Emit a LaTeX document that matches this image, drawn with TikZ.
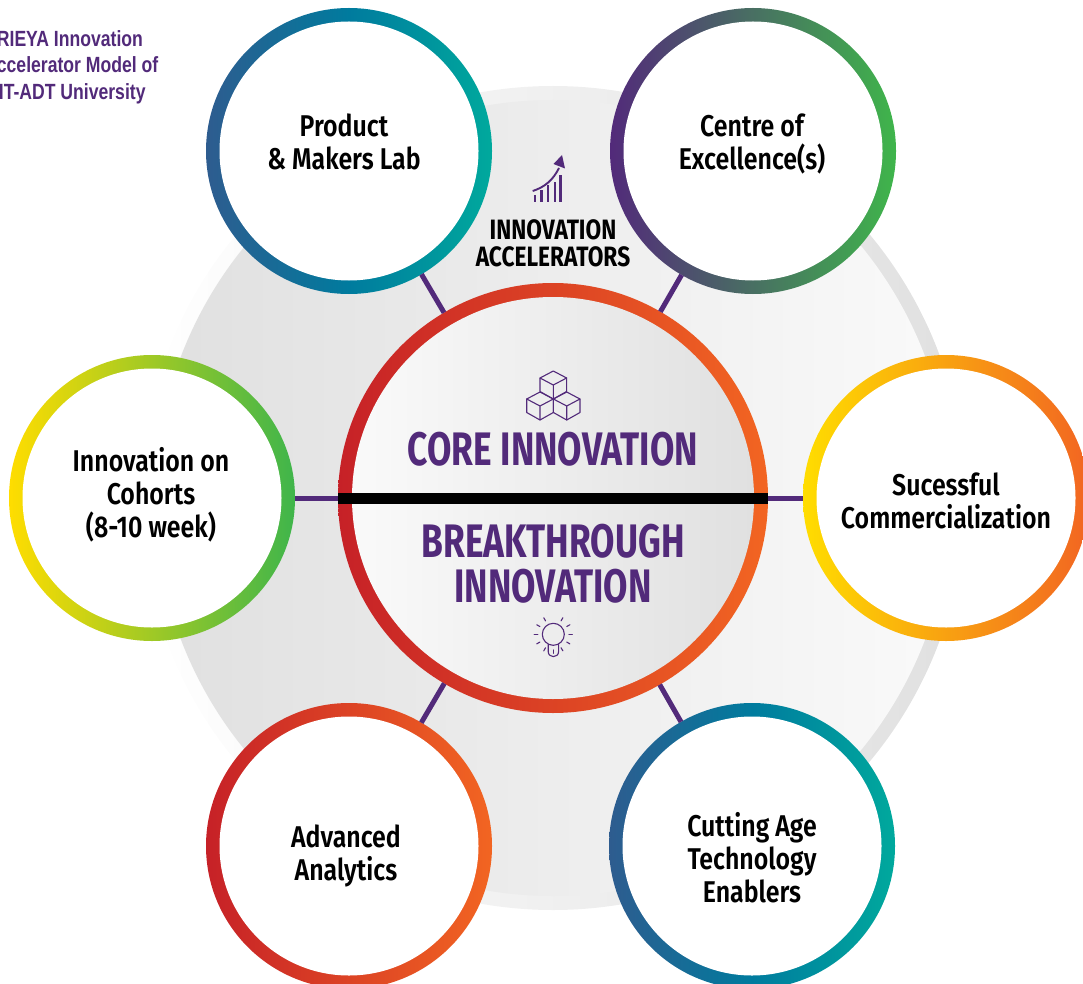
\documentclass[tikz,border=0pt]{standalone}
\usepackage{fontspec}
\setmainfont{Fira Sans}
\newfontfamily\condf[FakeStretch=0.83]{Fira Sans}[UprightFont=* SemiBold]
\newfontfamily\condb[FakeStretch=0.752]{Fira Sans}[UprightFont=* Bold]
\newfontfamily\condc[FakeStretch=0.81]{Fira Sans}[UprightFont=* Bold]
\newfontfamily\narrowf[FakeStretch=0.8]{Liberation Sans Bold}
\definecolor{purp}{HTML}{522A7A}
\definecolor{cred}{HTML}{C62127}
\definecolor{corange}{HTML}{F26522}
\definecolor{cyel}{HTML}{FFDD00}
\definecolor{cgreen}{HTML}{3FB54B}
\definecolor{cblue}{HTML}{2E5C8F}
\definecolor{cmid}{HTML}{007B9E}
\definecolor{cteal}{HTML}{00A99D}
\definecolor{gdark}{HTML}{E0E0E0}
\definecolor{glight}{HTML}{FAFAFA}
\tikzset{
  x=1pt,y=-1pt,
  ringout/.style={circle,minimum size=286pt,inner sep=0pt,outer sep=0pt},
  ringin/.style={circle,minimum size=259pt,inner sep=0pt,outer sep=0pt,fill=white},
  ringtext/.style={inner sep=0pt,align=center,font=\condf\fontsize{30}{33}\selectfont,text=black},
  link/.style={draw=purp,line width=5pt},
  icon/.style={draw=purp,line width=1.1pt,line join=round,line cap=round},
  big/.style={font=\condb\fontsize{47}{45}\selectfont,text=purp,align=center,inner sep=0pt},
}
\begin{document}
\begin{tikzpicture}
\useasboundingbox (0,0) rectangle (1083,984);
\clip (0,0) rectangle (1083,984);
% big disc
\node[circle,minimum size=824pt,inner sep=0pt,outer sep=0pt,left color=white,right color=gdark] (ringdisc) at (553,498) {};
\node[circle,minimum size=796pt,inner sep=0pt,outer sep=0pt,left color=gdark,right color=glight] (disc) at (553,498) {};
% title
\node[font=\narrowf\fontsize{22}{26.5}\selectfont,text=purp,align=left,anchor=north west,inner sep=0pt] (title) at (-16,30) {\phantom{A}RIEYA Innovation\\Accelerator Model of\\MIT-ADT University};
% outer rings
\node[ringout,left color=cblue,right color=cteal,middle color=cmid] (prodo) at (349,151) {};
\node[ringin] (prod) at (349,151) {};
\node[ringout,left color=purp,right color=cgreen] (coeo) at (753,151) {};
\node[ringin] (coe) at (753,151) {};
\node[ringout,left color=cyel,right color=corange] (suco) at (946,498) {};
\node[ringin] (suc) at (946,498) {};
\node[ringout,left color=cblue,right color=cteal,middle color=cmid] (cuto) at (752,846) {};
\node[ringin] (cut) at (752,846) {};
\node[ringout,left color=cred,right color=corange] (advo) at (349,846) {};
\node[ringin] (adv) at (349,846) {};
\node[ringout,left color=cyel,right color=cgreen] (inno) at (152,498) {};
\node[ringin] (inn) at (152,498) {};
% texts
\node[ringtext] (t1) at (344,142) {Product\\\& Makers Lab};
\node[ringtext] (t2) at (752,144) {Centre of\\Excellence(s)};
\node[ringtext] (t3) at (946,501) {Sucessful\\Commercialization};
\node[ringtext] (t4) at (752,858) {Cutting Age\\Technology\\Enablers};
\node[ringtext] (t5) at (346,856) {Advanced\\Analytics};
\node[ringtext] (t6) at (151,495) {Innovation on\\Cohorts\\(8-10 week)};
% centre
\node[circle,minimum size=430pt,inner sep=0pt,outer sep=0pt,left color=cred,right color=corange] (coreo) at (553,498) {};
\node[circle,minimum size=402pt,inner sep=0pt,outer sep=0pt,left color=glight,right color=gdark] (core) at (553,498) {};
\node[big] (coret) at (553,449) {CORE INNOVATION};
\node[big] (brk) at (553,564) {BREAKTHROUGH\\INNOVATION};
\node[font=\condc\fontsize{28}{27}\selectfont,text=black,align=center,inner sep=0pt] (acc) at (553,243) {INNOVATION\\ACCELERATORS};
\draw[black,line width=11pt] (coreo.west) -- (coreo.east);
% connectors
\draw[link] (coreo) -- (prodo);
\draw[link] (coreo) -- (coeo);
\draw[link] (coreo) -- (suco);
\draw[link] (coreo) -- (cuto);
\draw[link] (coreo) -- (advo);
\draw[link] (coreo) -- (inno);
% chart icon
\foreach \bx/\by in {535/195,541.7/190,548/185,555/182,560.5/175}{
  \fill[purp] (\bx-1.3,\by) rectangle (\bx+1.3,202);
}
\draw[purp,line width=1.9pt] (532.7,191) .. controls (545,187) and (553,180) .. (559,168);
\fill[purp] (553.5,164) -- (562,155) -- (565,168.5) -- cycle;
% cubes
\foreach \cx/\cy in {553.3/385,540/406,566.7/406}{
  \draw[icon] (\cx,\cy-14) -- (\cx+13.3,\cy-7) -- (\cx+13.3,\cy+6.5) -- (\cx,\cy+14) -- (\cx-13.3,\cy+6.5) -- (\cx-13.3,\cy-7) -- cycle;
  \draw[icon] (\cx-13.3,\cy-7) -- (\cx,\cy) -- (\cx+13.3,\cy-7) (\cx,\cy) -- (\cx,\cy+14);
}
% bulb
\draw[icon] (553.3,634.3) circle (11);
\draw[icon] (548.2,644.5) -- (548.2,651.5) .. controls (548.2,658.3) and (558.6,658.3) .. (558.6,651.5) -- (558.6,644.5);
\foreach \a in {-60,-30,0,30,60,90,120,150,180,210,240}{
  \draw[icon] (553.3,634.3) ++(\a:15.5) -- ++(\a:3.6);
}
\end{tikzpicture}
\end{document}
